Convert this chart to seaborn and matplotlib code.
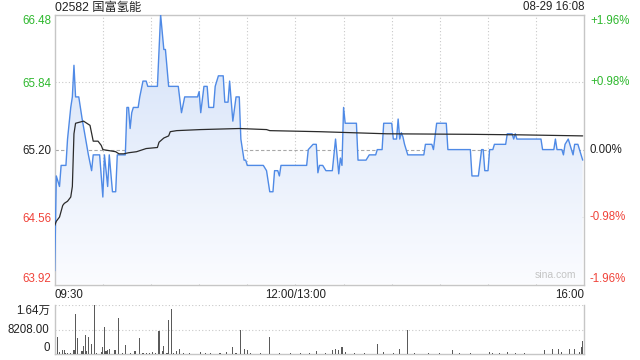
import numpy as np
import pandas as pd
import matplotlib
matplotlib.use("Agg")
import matplotlib.pyplot as plt
import seaborn as sns
from matplotlib.colors import LinearSegmentedColormap
from matplotlib.transforms import blended_transform_factory

# ---------------- data ----------------
title = "02582 国富氢能"
stamp = "08-29 16:08"
prev_close = 65.20

# minutes since 09:30 (trading minutes, lunch break removed) and last price
price_min = [0, 1, 3, 4, 7, 8, 10, 11, 12, 13, 15, 17, 21, 23, 24, 28, 30, 31, 33, 34,
             36, 38, 39, 44, 45, 46, 47, 48, 49, 52, 53, 55, 57, 58, 64, 66, 68, 69, 71, 77,
             79, 81, 89, 90, 91, 93, 95, 96, 99, 100, 102, 105, 106, 108, 109, 111, 113, 115, 116, 118,
             119, 120, 130, 132, 134, 136, 137, 139, 140, 141, 157, 158, 161, 163, 164, 165, 167, 169, 173, 175,
             177, 178, 179, 180, 181, 188, 189, 194, 196, 200, 201, 204, 205, 210, 211, 213, 214, 215, 216, 217,
             218, 220, 230, 231, 235, 236, 238, 244, 245, 259, 260, 264, 266, 267, 268, 270, 271, 273, 274, 281,
             282, 285, 286, 287, 288, 303, 304, 311, 312, 313, 316, 317, 318, 320, 321, 323, 324, 326, 327, 329]
price = [64.05, 64.95, 64.85, 65.05, 65.05, 65.30, 65.60, 65.70, 66.00, 65.70, 65.70, 65.50, 65.15, 65.00, 65.15, 65.15, 64.75, 65.15, 64.85, 65.15,
         64.80, 64.80, 65.15, 65.15, 65.60, 65.60, 65.40, 65.55, 65.60, 65.60, 65.70, 65.85, 65.85, 65.80, 65.80, 66.48, 66.15, 66.15, 65.80, 65.80,
         65.55, 65.70, 65.70, 65.75, 65.55, 65.80, 65.80, 65.60, 65.60, 65.80, 65.90, 65.90, 65.65, 65.65, 65.85, 65.47, 65.70, 65.70, 65.30, 65.10,
         65.10, 65.05, 65.05, 65.00, 64.80, 64.80, 65.00, 65.00, 64.95, 65.05, 65.05, 65.20, 65.25, 65.25, 64.98, 65.05, 65.05, 65.00, 65.00, 65.30,
         64.97, 65.12, 65.05, 65.60, 65.45, 65.45, 65.10, 65.10, 65.15, 65.15, 65.20, 65.20, 65.45, 65.45, 65.30, 65.30, 65.49, 65.30, 65.36, 65.32,
         65.25, 65.15, 65.15, 65.25, 65.25, 65.20, 65.45, 65.45, 65.20, 65.20, 64.95, 64.95, 65.20, 65.20, 65.00, 65.00, 65.20, 65.20, 65.25, 65.25,
         65.35, 65.35, 65.30, 65.35, 65.30, 65.30, 65.20, 65.20, 65.30, 65.20, 65.20, 65.15, 65.25, 65.30, 65.25, 65.15, 65.25, 65.25, 65.20, 65.10]

# average price line
avg_min = [0, 1, 3, 5, 6, 8, 10, 11, 12, 13, 18, 20, 22, 24, 27, 29, 30, 38, 40, 43,
           46, 51, 57, 64, 65, 68, 71, 72, 76, 91, 115, 132, 134, 165, 207, 259, 290, 329]
avg_price = [64.48, 64.52, 64.56, 64.67, 64.69, 64.71, 64.75, 64.85, 65.35, 65.45, 65.47, 65.45, 65.43, 65.28, 65.28, 65.24, 65.20, 65.18, 65.16, 65.16,
             65.17, 65.18, 65.21, 65.22, 65.27, 65.31, 65.33, 65.37, 65.38, 65.39, 65.40, 65.39, 65.38, 65.37, 65.35, 65.345, 65.34, 65.33]

# volume per minute
vol_min = [2, 3, 5, 6, 7, 8, 10, 12, 13, 14, 17, 18, 19, 20, 21, 23, 25, 26, 29, 30,
           31, 32, 33, 34, 37, 38, 40, 42, 44, 47, 50, 53, 55, 57, 59, 61, 63, 65, 67, 68,
           70, 71, 73, 74, 76, 78, 80, 84, 91, 94, 97, 103, 107, 111, 113, 116, 118, 120, 122, 128,
           134, 140, 147, 153, 159, 163, 169, 173, 175, 177, 179, 181, 187, 193, 201, 205, 211, 215, 220, 224,
           233, 240, 248, 252, 259, 271, 273, 277, 282, 287, 293, 305, 310, 314, 316, 321, 324, 327, 328, 329]
vol = [5860, 600, 1430, 1430, 500, 300, 400, 1500, 13400, 5530, 1000, 2860, 6430, 1200, 5860, 3430, 16416, 500, 600, 2530,
       9190, 1200, 1500, 1800, 1400, 1400, 12190, 300, 3100, 300, 1200, 5530, 500, 400, 300, 600, 400, 7860, 1000, 2860,
       300, 11420, 15080, 300, 1000, 1700, 400, 300, 600, 300, 400, 500, 600, 2330, 300, 8090, 1600, 1300, 300, 300,
       5860, 400, 300, 300, 500, 1200, 500, 1500, 1800, 1300, 2300, 600, 400, 300, 3430, 700, 300, 1800, 8090, 400,
       500, 300, 1300, 400, 300, 700, 500, 500, 600, 400, 400, 1500, 1800, 1600, 600, 1600, 1800, 600, 2500, 4430]

y_ticks = [63.92, 64.56, 65.20, 65.84, 66.48]
y_tick_labels = ["63.92", "64.56", "65.20", "65.84", "66.48"]
pct_labels = ["-1.96%", "-0.98%", "0.00%", "+0.98%", "+1.96%"]
x_grid_min = list(range(0, 331, 30))
x_tick_labels = {0: "09:30", 150: "12:00/13:00", 330: "16:00"}
vol_ticks = [0, 8208, 16416]
vol_tick_labels = ["0", "8208.00", "1.64万"]

# ---------------- style ----------------
sns.set_theme(style="white")
plt.rcParams["font.family"] = ["Liberation Sans", "Noto Sans CJK SC", "DejaVu Sans"]

GREEN = "#2eb82e"
RED = "#f0433a"
BLUE = "#4f8ae6"
GRID = "#c9c9c9"
SPINE = "#c6c6c6"
FS = 8.3

df_p = pd.DataFrame({"t": price_min, "p": price})
df_a = pd.DataFrame({"t": avg_min, "p": avg_price})
df_v = pd.DataFrame({"t": vol_min, "v": vol})

fig = plt.figure(figsize=(6.4, 3.6), dpi=100)
W, H = 640.0, 360.0
L, R = 54.7, 584.3
ax = fig.add_axes([L / W, 1 - 284.5 / H, (R - L) / W, (284.5 - 14.7) / H])
axv = fig.add_axes([L / W, 1 - 354.3 / H, (R - L) / W, (354.3 - 305.0) / H])

ymin, ymax = y_ticks[0], y_ticks[-1]
ax.set_xlim(0, 330)
ax.set_ylim(ymin, ymax)

# gradient fill under the price line
poly = ax.fill_between(df_p["t"], df_p["p"], ymin, color="none", lw=0)
cmap = LinearSegmentedColormap.from_list("g", ["#fbfcff", "#d3e1f8"])
grad = np.linspace(0, 1, 256).reshape(-1, 1)
img = ax.imshow(grad, extent=[0, 330, ymin, ymax], origin="lower", aspect="auto",
                cmap=cmap, zorder=1)
img.set_clip_path(poly.get_paths()[0], transform=ax.transData)

# grid
for t in x_grid_min[1:-1]:
    ax.axvline(t, color=GRID, lw=0.8, ls=(0, (1, 2)), zorder=0.5)
for y in y_ticks[1:-1]:
    if abs(y - prev_close) > 1e-6:
        ax.axhline(y, color=GRID, lw=0.8, ls=(0, (1, 2)), zorder=0.5)
ax.axhline(prev_close, color="#a8a8a8", lw=0.8, ls=(0, (3, 2)), zorder=0.6)

sns.lineplot(data=df_p, x="t", y="p", ax=ax, color=BLUE, lw=1.0, zorder=3)
sns.lineplot(data=df_a, x="t", y="p", ax=ax, color="#2b2b2b", lw=0.9, zorder=4)

ax.set_xlabel("")
ax.set_ylabel("")
ax.set_yticks(y_ticks)
ax.set_yticklabels(y_tick_labels, fontsize=FS)
labs = ax.get_yticklabels()
for lab, y in zip(labs, y_ticks):
    if y > prev_close + 1e-6:
        lab.set_color(GREEN)
    elif y < prev_close - 1e-6:
        lab.set_color(RED)
    else:
        lab.set_color("#222222")
labs[0].set_va("bottom")
labs[-1].set_va("top")
ax.set_xticks(x_grid_min)
ax.set_xticklabels([x_tick_labels.get(t, "") for t in x_grid_min], fontsize=FS, color="#222222")
xl = ax.get_xticklabels()
xl[0].set_ha("left")
xl[-1].set_ha("right")
ax.tick_params(axis="both", length=0)
ax.tick_params(axis="y", pad=2.6)
ax.tick_params(axis="x", pad=3.6)
for s in ax.spines.values():
    s.set_color(SPINE)
    s.set_linewidth(1.0)
    s.set_visible(True)

trans = blended_transform_factory(ax.transAxes, ax.transData)
n = len(y_ticks)
for i, (y, lab) in enumerate(zip(y_ticks, pct_labels)):
    c = GREEN if y > prev_close + 1e-6 else (RED if y < prev_close - 1e-6 else "#222222")
    va = "bottom" if i == 0 else ("top" if i == n - 1 else "center")
    ax.text(1.0107, y, lab, transform=trans, ha="left", va=va, fontsize=FS, color=c)

ax.text(0.985, 0.018, "sina.com", transform=ax.transAxes, ha="right", va="bottom",
        fontsize=7.5, color="#c4c4c4")

fig.text(L / W, 1 - 7.5 / H, title, ha="left", va="center", fontsize=8.8, color="#222222")
fig.text(R / W, 1 - 7.5 / H, stamp, ha="right", va="center", fontsize=FS, color="#222222")

# ---------------- volume panel ----------------
axv.bar(df_v["t"], df_v["v"], width=0.7, color="#5a5a5a", lw=0, zorder=3)
axv.set_xlim(0, 330)
axv.set_ylim(0, vol_ticks[-1])
axv.set_xticks([])
axv.set_yticks([])
for y in vol_ticks[1:]:
    axv.axhline(y, color=GRID, lw=0.8, ls=(0, (1, 2)), zorder=0.5)
for side in ["left", "right", "bottom"]:
    axv.spines[side].set_color(SPINE)
    axv.spines[side].set_linewidth(1.0)
    axv.spines[side].set_visible(True)
axv.spines["top"].set_visible(False)
tv = blended_transform_factory(axv.transAxes, axv.transData)
pad = -5.0 / (R - L)
axv.text(pad, vol_ticks[2], vol_tick_labels[2], transform=tv, ha="right", va="top", fontsize=FS, color="#222222")
axv.text(pad, vol_ticks[1], vol_tick_labels[1], transform=tv, ha="right", va="center", fontsize=FS, color="#222222")
axv.text(pad, vol_ticks[0], vol_tick_labels[0], transform=tv, ha="right", va="bottom", fontsize=FS, color="#222222")

fig.savefig("out.png", dpi=100)
